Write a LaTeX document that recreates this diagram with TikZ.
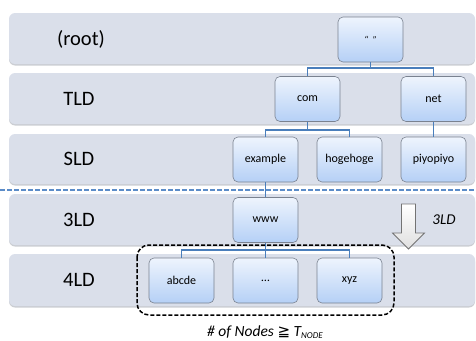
\documentclass[tikz,border=0pt]{standalone}
\usepackage{fontspec}
\setmainfont{Carlito}
\newfontfamily\djv{DejaVu Sans}
\usetikzlibrary{shadows}
\definecolor{bandfill}{HTML}{DADFEA}
\definecolor{bandshadow}{HTML}{A8ADB6}
\definecolor{nodetop}{HTML}{EEF4FD}
\definecolor{nodebot}{HTML}{B5D0F6}
\definecolor{nodeline}{HTML}{7A8290}
\definecolor{conn}{HTML}{4A7EBB}
\definecolor{sepline}{HTML}{5B8CC8}
\begin{document}
\begin{tikzpicture}[x=1pt,y=-1pt,
  band/.style={fill=bandfill,draw=none,rounded corners=6pt,
    drop shadow={shadow xshift=0pt,shadow yshift=-1.5pt,opacity=0.6,fill=bandshadow}},
  lvl/.style={font=\fontsize{20.5}{24}\selectfont,anchor=center},
  dn/.style={draw=nodeline,line width=0.6pt,rounded corners=5pt,
    top color=nodetop,bottom color=nodebot,minimum width=65pt,minimum height=45pt,
    inner sep=0pt,font=\fontsize{12}{14}\selectfont},
  conn/.style={draw=conn,line width=1.8pt},
]
\useasboundingbox (0,0) rectangle (476,340);
% bands
\path[band] (9,13) rectangle (475,64);
\path[band] (9,73) rectangle (475,124);
\path[band] (9,134) rectangle (475,184);
\path[band] (9,194) rectangle (475,245);
\path[band] (9,254) rectangle (475,306);
% level labels
\node[lvl] (lroot) at (81,39) {(root)};
\node[lvl] (ltld) at (79,99) {TLD};
\node[lvl] (lsld) at (79,159) {SLD};
\node[lvl] (l3ld) at (79,220) {3LD};
\node[lvl] (l4ld) at (79,280) {4LD};
% separator
\draw[sepline,line width=2pt,dash pattern=on 5pt off 2pt] (0,190) -- (476,190);
% nodes
\node[dn] (root) at (370.5,39.5) {\fontsize{10}{11}\selectfont\itshape “\ \ ”};
\node[dn] (com) at (307.5,99) {com};
\node[dn] (net) at (433.5,99) {net};
\node[dn] (example) at (265.5,159.5) {example};
\node[dn] (hoge) at (349.5,159.5) {hogehoge};
\node[dn] (piyo) at (433.5,159.5) {piyopiyo};
\node[dn] (www) at (265.5,220) {www};
\node[dn] (abcde) at (181.5,280.5) {abcde};
\node[dn] (dots) at (265.5,280.5) {\ldots};
\node[dn] (xyz) at (349.5,280.5) {xyz};
% connectors
\coordinate (j1) at (370.5,68);
\coordinate (j2) at (307.5,130);
\coordinate (j4) at (265.5,250);
\draw[conn] (root.south) -- (j1);
\draw[conn] (com.north) |- (j1) -| (net.north);
\draw[conn] (com.south) -- (j2);
\draw[conn] (example.north) |- (j2) -| (hoge.north);
\draw[conn] (net.south) -- (piyo.north);
\draw[conn] (example.south) -- (www.north);
\draw[conn] (www.south) -- (j4);
\draw[conn] (abcde.north) |- (j4) -| (xyz.north);
\draw[conn] (j4) -- (dots.north);
% dashed group box
\draw[black,line width=1.5pt,dash pattern=on 4pt off 2pt,rounded corners=12pt] (137,245) rectangle (394,315);
% block arrow
\draw[draw=gray!90!black,line width=0.8pt,top color=white,bottom color=gray!25]
  (401.5,204) -- (415.5,204) -- (415.5,233) -- (424.5,233) -- (408.5,249) -- (392.5,233) -- (401.5,233) -- cycle;
\node[font=\fontsize{15}{18}\selectfont\itshape] (l3) at (444,220) {3LD};
% bottom label
\node[font=\fontsize{15.5}{18}\selectfont\itshape,anchor=base] (cnt) at (265,336)
  {\# of Nodes {\djv\upshape\fontsize{15}{15}\selectfont ≧} T\raisebox{-0.35ex}{\fontsize{9}{10}\selectfont NODE}};
\end{tikzpicture}
\end{document}
